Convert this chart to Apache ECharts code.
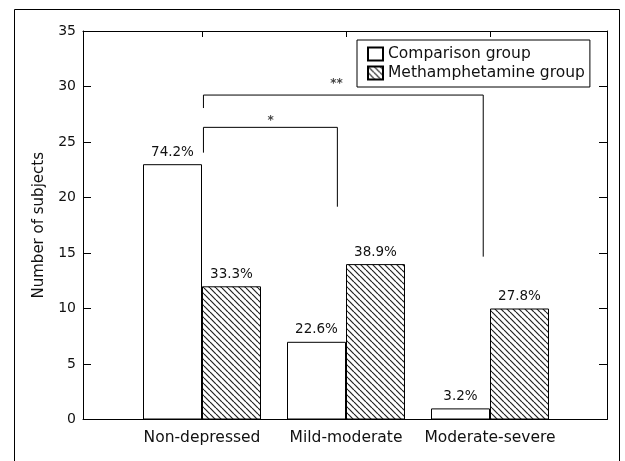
<!DOCTYPE html>
<html>
<head>
<meta charset="utf-8">
<script src="https://cdn.jsdelivr.net/npm/echarts@6/dist/echarts.min.js"></script>
<style>
  html, body { margin: 0; padding: 0; background: #fff; }
  #chart { width: 625px; height: 461px; }
</style>
</head>
<body>
<div id="chart"></div>
<script>
// Depression severity groups and subject counts
const categories = ['Non-depressed', 'Mild-moderate', 'Moderate-severe'];
const comparisonCounts = [23, 7, 1];
const methCounts = [12, 14, 10];
const comparisonPct = ['74.2%', '22.6%', '3.2%'];
const methPct = ['33.3%', '38.9%', '27.8%'];
const yTicks = [0, 5, 10, 15, 20, 25, 30, 35];

// Significance brackets: [x, y] points in category units (0 = first group centre)
const bracketOne = [[0.01, 24.04], [0.01, 26.32], [0.94, 26.32], [0.94, 19.17]];
const bracketTwo = [[0.01, 28.06], [0.01, 29.23], [1.953, 29.23], [1.953, 14.67]];
const starMarks = [[0.477, 26.9, '*'], [0.934, 30.2, '**']];

const FONT = 'DejaVu Sans';
const INK = '#111';

// Diagonal hatch tile for the methamphetamine bars
function hatchTile() {
  const s = 6;
  const c = document.createElement('canvas');
  c.width = s; c.height = s;
  const g = c.getContext('2d');
  g.fillStyle = '#fff';
  g.fillRect(0, 0, s, s);
  g.strokeStyle = '#222';
  g.lineWidth = 1.2;
  for (const k of [-s, 0, s]) {
    g.beginPath();
    g.moveTo(k, 0);
    g.lineTo(k + s, s);
    g.stroke();
  }
  return c;
}

const chart = echarts.init(document.getElementById('chart'), null, { renderer: 'canvas' });

const lineStyle = { color: '#000', width: 1 };
const frameLine = { show: true, onZero: false, lineStyle };

const option = {
  animation: false,
  backgroundColor: '#fff',
  textStyle: { fontFamily: FONT, color: INK },
  graphic: [{
    type: 'rect',
    shape: { x: 14.5, y: 9.5, width: 605, height: 460 },
    style: { fill: null, stroke: '#000', lineWidth: 1 },
    silent: true
  }],
  legend: {
    orient: 'vertical',
    left: 357,
    top: 40,
    padding: [6, 5, 6, 10],
    icon: 'rect',
    itemWidth: 15,
    itemHeight: 13,
    itemGap: 3,
    itemTextGap: 5,
    borderColor: '#000',
    borderWidth: 1,
    backgroundColor: '#fff',
    textStyle: { fontFamily: FONT, fontSize: 15.5, color: INK },
    data: ['Comparison group', 'Methamphetamine group']
  },
  grid: [
    { left: 83, right: 18, top: 31, bottom: 41.5 },
    { left: 130, width: 432, top: 31, bottom: 41.5 }
  ],
  xAxis: [
    { gridIndex: 0, type: 'value', min: 0, max: 1, position: 'bottom',
      axisLine: frameLine, axisTick: { show: false },
      axisLabel: { show: false }, splitLine: { show: false } },
    { gridIndex: 0, type: 'value', min: 0, max: 1, position: 'top',
      axisLine: frameLine, axisTick: { show: false },
      axisLabel: { show: false }, splitLine: { show: false } },
    { gridIndex: 1, type: 'category', data: categories, position: 'bottom',
      axisLine: { show: false, onZero: false }, axisTick: { show: false },
      axisLabel: { interval: 0, fontFamily: FONT, fontSize: 15.5, color: INK, margin: 10 } },
    { gridIndex: 1, type: 'category', data: categories, position: 'top',
      axisLine: { show: false, onZero: false },
      axisTick: { show: true, inside: true, alignWithLabel: true, interval: 0, length: 6, lineStyle },
      axisLabel: { show: false } },
    { gridIndex: 1, type: 'value', min: -0.5, max: 2.5, show: false }
  ],
  yAxis: [
    { gridIndex: 0, type: 'value', min: 0, max: 35, interval: 5, position: 'left',
      name: 'Number of subjects', nameLocation: 'middle', nameGap: 36,
      nameTextStyle: { fontFamily: FONT, fontSize: 15, color: INK },
      axisLine: frameLine,
      axisTick: { show: true, inside: true, length: 8, lineStyle },
      axisLabel: { fontFamily: FONT, fontSize: 14, color: INK, margin: 7,
        formatter: v => String(yTicks[yTicks.indexOf(v)]) },
      splitLine: { show: false } },
    { gridIndex: 0, type: 'value', min: 0, max: 35, interval: 5, position: 'right',
      axisLine: frameLine,
      axisTick: { show: true, inside: true, length: 8, lineStyle },
      axisLabel: { show: false }, splitLine: { show: false } },
    { gridIndex: 1, type: 'value', min: 0, max: 35, show: false }
  ],
  series: [
    {
      name: 'Comparison group', type: 'bar', xAxisIndex: 2, yAxisIndex: 2,
      data: comparisonCounts, barWidth: 59, barGap: '0%',
      itemStyle: { color: '#fff', borderColor: '#000', borderWidth: 1 },
      label: { show: true, position: 'top', distance: 5, fontFamily: FONT, fontSize: 13.5, color: INK,
        formatter: p => comparisonPct[p.dataIndex] }
    },
    {
      name: 'Methamphetamine group', type: 'bar', xAxisIndex: 2, yAxisIndex: 2,
      data: methCounts, barWidth: 59, barGap: '0%',
      itemStyle: { color: { image: hatchTile(), repeat: 'repeat' }, borderColor: '#000', borderWidth: 1 },
      label: { show: true, position: 'top', distance: 5, fontFamily: FONT, fontSize: 13.5, color: INK,
        formatter: p => methPct[p.dataIndex] }
    },
    {
      type: 'line', xAxisIndex: 4, yAxisIndex: 2, data: bracketOne,
      symbol: 'none', lineStyle, silent: true
    },
    {
      type: 'line', xAxisIndex: 4, yAxisIndex: 2, data: bracketTwo,
      symbol: 'none', lineStyle, silent: true
    },
    {
      type: 'scatter', xAxisIndex: 4, yAxisIndex: 2, data: starMarks,
      symbolSize: 0, silent: true,
      label: { show: true, position: 'inside', fontFamily: FONT, fontSize: 12, fontWeight: 'bold', color: INK,
        formatter: p => p.data[2] }
    }
  ]
};

chart.setOption(option);
</script>
</body>
</html>
